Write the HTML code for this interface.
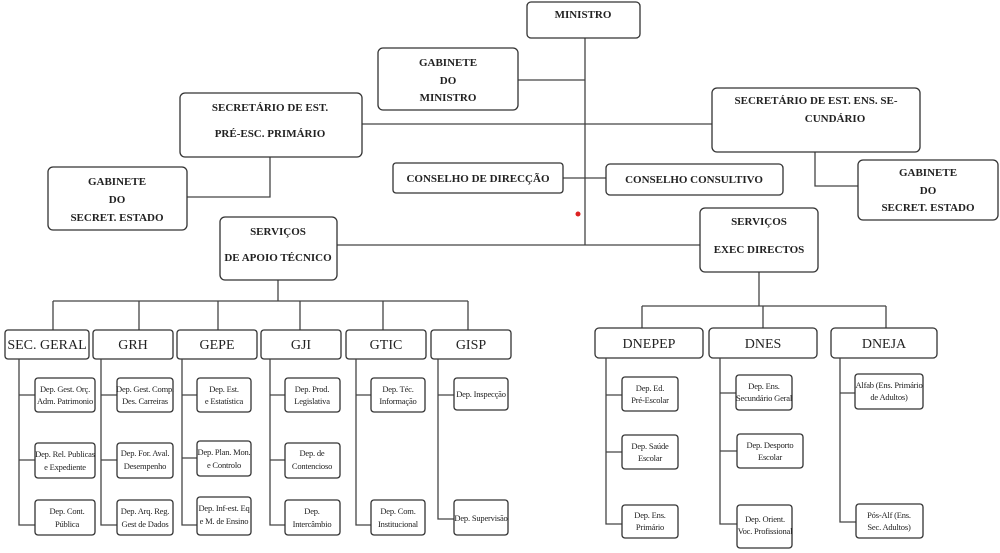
<!DOCTYPE html>
<html><head><meta charset="utf-8"><style>
html,body{margin:0;padding:0;background:#fff;}
svg{display:block;font-family:"Liberation Serif",serif;}
text{fill:#222;text-anchor:middle;}
.b{fill:#fff;stroke:#333;stroke-width:1.3;}
.l{stroke:#444;stroke-width:1.3;fill:none;}
.t{font-size:11px;font-weight:bold;}
.m{font-size:14px;}
.s{font-size:8.5px;letter-spacing:-0.2px;}
</style></head><body>
<svg width="1000" height="553" viewBox="0 0 1000 553">
<path class="l" d="M585 38V245 M518 80H585 M362 124H712 M563 178H606 M337 245H700 M270 157V197H187 M815 152V186H858"/>
<path class="l" d="M278 280V301 M53 301H468 M53 301V330 M139 301V330 M218 301V330 M300 301V330 M383 301V330 M468 301V330"/>
<path class="l" d="M759 272V306 M642 306H886 M642 306V328 M763 306V328 M886 306V328"/>
<circle cx="578" cy="214" r="2.5" fill="#d22"/>
<rect class="b" x="527" y="2" width="113" height="36" rx="4"/><text class="t" x="583" y="18">MINISTRO</text>
<rect class="b" x="378" y="48" width="140" height="62" rx="5"/><text class="t" x="448" y="66">GABINETE</text><text class="t" x="448" y="84">DO</text><text class="t" x="448" y="101">MINISTRO</text>
<rect class="b" x="180" y="93" width="182" height="64" rx="5"/><text class="t" x="270" y="111">SECRETÁRIO DE EST.</text><text class="t" x="270" y="137">PRÉ-ESC. PRIMÁRIO</text>
<rect class="b" x="712" y="88" width="208" height="64" rx="5"/><text class="t" x="816" y="104">SECRETÁRIO DE EST. ENS. SE-</text><text class="t" x="835" y="122">CUNDÁRIO</text>
<rect class="b" x="48" y="167" width="139" height="63" rx="5"/><text class="t" x="117" y="185">GABINETE</text><text class="t" x="117" y="203">DO</text><text class="t" x="117" y="221">SECRET. ESTADO</text>
<rect class="b" x="858" y="160" width="140" height="60" rx="5"/><text class="t" x="928" y="176">GABINETE</text><text class="t" x="928" y="194">DO</text><text class="t" x="928" y="211">SECRET. ESTADO</text>
<rect class="b" x="393" y="163" width="170" height="30" rx="3"/><text class="t" x="478" y="182">CONSELHO DE DIRECÇÃO</text>
<rect class="b" x="606" y="164" width="177" height="31" rx="4"/><text class="t" x="694" y="183">CONSELHO CONSULTIVO</text>
<rect class="b" x="220" y="217" width="117" height="63" rx="5"/><text class="t" x="278" y="235">SERVIÇOS</text><text class="t" x="278" y="261">DE APOIO TÉCNICO</text>
<rect class="b" x="700" y="208" width="118" height="64" rx="5"/><text class="t" x="759" y="225">SERVIÇOS</text><text class="t" x="759" y="253">EXEC DIRECTOS</text>
<g class="m">
<rect class="b" x="5" y="330" width="84" height="29" rx="3"/><text x="47" y="349">SEC. GERAL</text>
<rect class="b" x="93" y="330" width="80" height="29" rx="3"/><text x="133" y="349">GRH</text>
<rect class="b" x="177" y="330" width="80" height="29" rx="3"/><text x="217" y="349">GEPE</text>
<rect class="b" x="261" y="330" width="80" height="29" rx="3"/><text x="301" y="349">GJI</text>
<rect class="b" x="346" y="330" width="80" height="29" rx="3"/><text x="386" y="349">GTIC</text>
<rect class="b" x="431" y="330" width="80" height="29" rx="3"/><text x="471" y="349">GISP</text>
<rect class="b" x="595" y="328" width="108" height="30" rx="4"/><text x="649" y="348">DNEPEP</text>
<rect class="b" x="709" y="328" width="108" height="30" rx="4"/><text x="763" y="348">DNES</text>
<rect class="b" x="831" y="328" width="106" height="30" rx="4"/><text x="884" y="348">DNEJA</text>
</g>
<path class="l" d="M19 359V525H35 M19 395H35 M19 460H35
M101 359V525H117 M101 395H117 M101 460H117
M182 359V525H197 M182 395H197 M182 458H197
M270 359V525H285 M270 395H285 M270 460H285
M356 359V525H371 M356 395H371
M438 359V519H454 M438 395H454
M606 358V524H622 M606 395H622 M606 452H622
M720 358V524H737 M720 393H736 M720 451H737
M840 358V522H856 M840 393H855"/>
<g class="s">
<rect class="b" x="35" y="378" width="60" height="34" rx="3"/><text x="65" y="392">Dep. Gest. Orç.</text><text x="65" y="404">Adm. Patrimonio</text>
<rect class="b" x="35" y="443" width="60" height="35" rx="3"/><text x="65" y="457">Dep. Rel. Publicas</text><text x="65" y="470">e Expediente</text>
<rect class="b" x="35" y="500" width="60" height="35" rx="3"/><text x="67" y="514">Dep. Cont.</text><text x="67" y="527">Pública</text>
<rect class="b" x="117" y="378" width="56" height="34" rx="3"/><text x="145" y="392">Dep. Gest. Comp.</text><text x="145" y="404">Des. Carreiras</text>
<rect class="b" x="117" y="443" width="56" height="35" rx="3"/><text x="145" y="456">Dep. For. Aval.</text><text x="145" y="469">Desempenho</text>
<rect class="b" x="117" y="500" width="56" height="35" rx="3"/><text x="145" y="514">Dep. Arq. Reg.</text><text x="145" y="527">Gest de Dados</text>
<rect class="b" x="197" y="378" width="54" height="34" rx="3"/><text x="224" y="392">Dep. Est.</text><text x="224" y="404">e Estatística</text>
<rect class="b" x="197" y="441" width="54" height="35" rx="3"/><text x="224" y="455">Dep. Plan. Mon.</text><text x="224" y="468">e Controlo</text>
<rect class="b" x="197" y="497" width="54" height="38" rx="3"/><text x="224" y="511">Dep. Inf-est. Eq</text><text x="224" y="524">e M. de Ensino</text>
<rect class="b" x="285" y="378" width="55" height="34" rx="3"/><text x="312" y="392">Dep. Prod.</text><text x="312" y="404">Legislativa</text>
<rect class="b" x="285" y="443" width="55" height="35" rx="3"/><text x="312" y="456">Dep. de</text><text x="312" y="469">Contencioso</text>
<rect class="b" x="285" y="500" width="55" height="35" rx="3"/><text x="312" y="514">Dep.</text><text x="312" y="527">Intercâmbio</text>
<rect class="b" x="371" y="378" width="54" height="34" rx="3"/><text x="398" y="392">Dep. Téc.</text><text x="398" y="404">Informação</text>
<rect class="b" x="371" y="500" width="54" height="35" rx="3"/><text x="398" y="514">Dep. Com.</text><text x="398" y="527">Institucional</text>
<rect class="b" x="454" y="378" width="54" height="32" rx="3"/><text x="481" y="397">Dep. Inspecção</text>
<rect class="b" x="454" y="500" width="54" height="35" rx="3"/><text x="481" y="521">Dep. Supervisão</text>
<rect class="b" x="622" y="377" width="56" height="34" rx="3"/><text x="650" y="391">Dep. Ed.</text><text x="650" y="403">Pré-Escolar</text>
<rect class="b" x="622" y="435" width="56" height="34" rx="3"/><text x="650" y="449">Dep. Saúde</text><text x="650" y="461">Escolar</text>
<rect class="b" x="622" y="505" width="56" height="33" rx="3"/><text x="650" y="518">Dep. Ens.</text><text x="650" y="530">Primário</text>
<rect class="b" x="736" y="375" width="56" height="35" rx="3"/><text x="764" y="389">Dep. Ens.</text><text x="764" y="401">Secundário Geral</text>
<rect class="b" x="737" y="434" width="66" height="34" rx="3"/><text x="770" y="448">Dep. Desporto</text><text x="770" y="460">Escolar</text>
<rect class="b" x="737" y="505" width="55" height="43" rx="3"/><text x="765" y="522">Dep. Orient.</text><text x="765" y="534">Voc. Profissional</text>
<rect class="b" x="855" y="374" width="68" height="35" rx="3"/><text x="889" y="388">Alfab (Ens. Primário</text><text x="889" y="400">de Adultos)</text>
<rect class="b" x="856" y="504" width="67" height="34" rx="3"/><text x="889" y="518">Pós-Alf (Ens.</text><text x="889" y="530">Sec. Adultos)</text>
</g>
</svg>
</body></html>
